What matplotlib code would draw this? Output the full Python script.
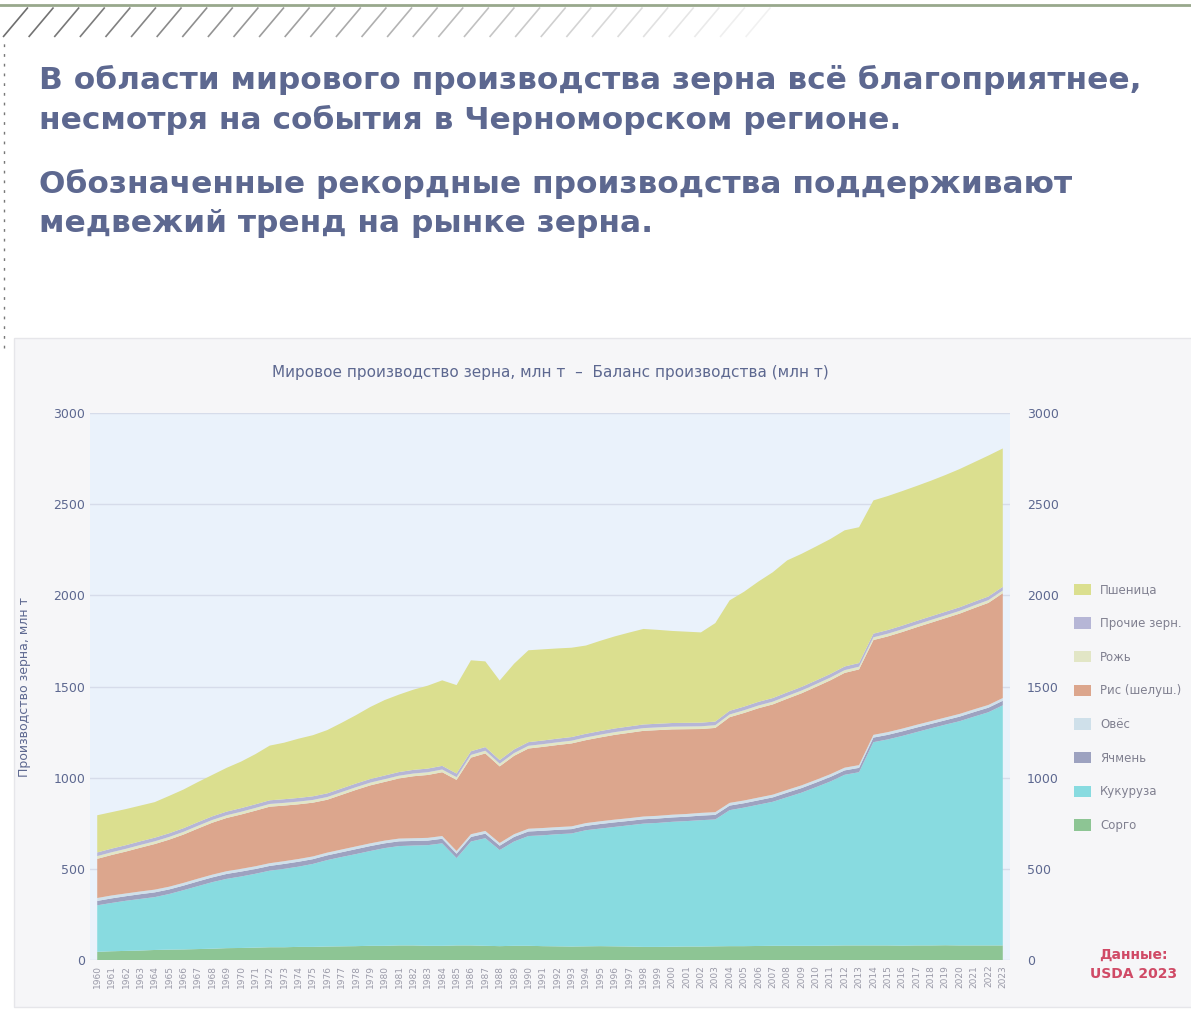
import matplotlib
matplotlib.use("Agg")
import matplotlib.pyplot as plt
import numpy as np
from matplotlib.lines import Line2D
from matplotlib.patches import Rectangle

years = np.arange(1960, 2024)

# series, bottom to top (млн т)
sorghum = [45, 48, 50, 52, 55, 57, 58, 60,
           62, 65, 66, 68, 70, 70, 72, 72,
           74, 75, 76, 78, 78, 80, 80, 78,
           78, 80, 80, 78, 76, 78, 78, 76,
           75, 74, 75, 76, 75, 74, 72, 72,
           73, 74, 74, 75, 76, 76, 77, 78,
           78, 78, 78, 79, 80, 80, 80, 80,
           79, 80, 80, 81, 80, 80, 80, 80]
corn = [255, 265, 275, 283, 290, 305, 325, 345,
        365, 380, 392, 405, 420, 430, 440, 455,
        474, 490, 505, 520, 536, 545, 548, 552,
        562, 479, 570, 590, 527, 572, 602, 608,
        615, 620, 637, 645, 655, 665, 676, 680,
        685, 688, 693, 696, 746, 760, 775, 790,
        815, 840, 870, 900, 936, 950, 1115, 1130,
        1150, 1170, 1191, 1210, 1230, 1255, 1279, 1317]
barley = [24, 25, 25, 26, 26, 25, 25, 26,
          26, 27, 27, 26, 26, 27, 27, 26,
          26, 26, 27, 27, 26, 26, 25, 25,
          25, 24, 25, 25, 24, 25, 25, 25,
          24, 24, 24, 25, 25, 24, 24, 24,
          24, 24, 25, 25, 25, 24, 24, 24,
          25, 25, 25, 25, 24, 24, 25, 25,
          25, 25, 24, 24, 25, 25, 25, 25]
oats = [16, 16, 15, 15, 15, 15, 15, 15,
        15, 15, 15, 15, 15, 15, 15, 15,
        15, 15, 15, 15, 15, 15, 15, 15,
        15, 15, 15, 15, 15, 15, 15, 15,
        15, 15, 15, 15, 15, 15, 15, 15,
        15, 15, 15, 15, 15, 15, 15, 15,
        15, 15, 15, 15, 15, 15, 15, 15,
        15, 15, 15, 15, 15, 15, 15, 15]
rice = [215, 222, 230, 240, 250, 258, 265, 275,
        285, 292, 298, 305, 310, 305, 300, 295,
        290, 300, 310, 318, 322, 330, 340, 345,
        350, 390, 420, 425, 420, 430, 440, 445,
        450, 455, 455, 460, 465, 468, 470, 470,
        468, 465, 460, 462, 470, 480, 490, 495,
        500, 505, 510, 515, 520, 525, 520, 525,
        530, 535, 540, 545, 550, 555, 560, 575]
rye = [15, 15, 15, 15, 15, 15, 15, 15,
       15, 15, 15, 15, 15, 15, 15, 15,
       15, 15, 15, 15, 15, 15, 15, 15,
       15, 15, 15, 15, 15, 15, 15, 15,
       15, 15, 15, 15, 15, 15, 15, 15,
       15, 15, 15, 15, 15, 15, 15, 15,
       15, 15, 15, 15, 15, 15, 15, 15,
       15, 15, 15, 15, 15, 15, 15, 15]
other = [20, 20, 20, 20, 20, 20, 20, 20,
         20, 20, 20, 20, 20, 20, 20, 20,
         20, 20, 20, 20, 20, 20, 20, 20,
         20, 20, 20, 20, 20, 20, 20, 20,
         20, 20, 20, 20, 20, 20, 20, 20,
         20, 20, 20, 20, 20, 20, 20, 20,
         20, 20, 20, 20, 20, 20, 20, 20,
         20, 20, 20, 20, 20, 20, 20, 20]
wheat = [204, 200, 198, 196, 195, 205, 212, 220,
         227, 240, 255, 275, 300, 310, 325, 335,
         347, 360, 375, 395, 414, 425, 440, 455,
         469, 485, 499, 470, 436, 470, 504, 500,
         495, 490, 484, 495, 505, 515, 524, 515,
         505, 500, 495, 540, 606, 630, 660, 690,
         724, 730, 735, 740, 747, 745, 731, 735,
         738, 740, 744, 750, 758, 765, 773, 759]

series = [sorghum, corn, barley, oats, rice, rye, other, wheat]
labels = ["Сорго", "Кукуруза", "Ячмень", "Овёс", "Рис (шелуш.)",
          "Рожь", "Прочие зерн.", "Пшеница"]
colors = ["#8dc594", "#88dbe0", "#9da2c0", "#cfe0ea", "#dca68d",
          "#e2e6c6", "#b6b6d6", "#dbdf8f"]
y_ticks = [0, 500, 1000, 1500, 2000, 2500, 3000]

TEXT_COL = "#5d6890"

fig = plt.figure(figsize=(11.91, 10.10), dpi=100)
fig.patch.set_facecolor("white")

# decorative header: top rule, slashes, dotted left rule
fig.add_artist(Line2D([0, 1], [0.995, 0.995], color="#98a88c", lw=2))
for k in range(30):
    x0 = 0.003 + k * 0.0215
    if x0 > 0.64:
        break
    a = max(0.08, 0.85 - k * 0.027)
    fig.add_artist(Line2D([x0, x0 + 0.02], [0.964, 0.992],
                          color="#555555", lw=1.2, alpha=a))
fig.add_artist(Line2D([0.003, 0.003], [0.655, 0.96], color="#777777",
                      lw=1, ls=(0, (2, 5))))

heading = [
    ("В области мирового производства зерна всё благоприятнее,", 0.921),
    ("несмотря на события в Черноморском регионе.", 0.881),
    ("Обозначенные рекордные производства поддерживают", 0.818),
    ("медвежий тренд на рынке зерна.", 0.779),
]
for txt, yy in heading:
    fig.text(0.033, yy, txt, fontsize=22.5, fontweight="bold",
             color=TEXT_COL, va="center", ha="left")

# chart panel background
fig.add_artist(Rectangle((0.012, 0.003), 0.99, 0.662, transform=fig.transFigure,
                         facecolor="#f6f6f8", edgecolor="#e6e6ea", lw=1,
                         zorder=-5))

ax = fig.add_axes([0.0756, 0.0495, 0.7724, 0.5415])
ax.set_facecolor("#eaf2fb")
ax.stackplot(years, *series, colors=colors, labels=labels, lw=0)
ax.set_xlim(years[0] - 0.5, years[-1] + 0.5)
ax.set_ylim(0, 3000)
ax.set_yticks(y_ticks)
ax.set_yticklabels([str(v) for v in y_ticks], fontsize=9, color=TEXT_COL)
ax.grid(axis="y", color="#d6dcea", lw=1)
ax.set_axisbelow(True)
ax.set_xticks(years)
ax.set_xticklabels([str(y) for y in years], rotation=90, fontsize=6.5,
                   color="#9a9aa8")
ax.tick_params(length=0)
for s in ax.spines.values():
    s.set_visible(False)
ax.set_ylabel("Производство зерна, млн т", fontsize=9, color=TEXT_COL,
              labelpad=16)

ax2 = ax.twinx()
ax2.set_ylim(0, 3000)
ax2.set_yticks(y_ticks)
ax2.set_yticklabels([str(v) for v in y_ticks], fontsize=9, color=TEXT_COL)
ax2.tick_params(length=0, pad=12)
for s in ax2.spines.values():
    s.set_visible(False)

ax.set_title("Мировое производство зерна, млн т  –  Баланс производства (млн т)",
             fontsize=11, color=TEXT_COL, pad=26)

h, l = ax.get_legend_handles_labels()
fig.legend(h[::-1], l[::-1], loc="upper left", bbox_to_anchor=(0.893, 0.433),
           frameon=False, fontsize=8.5, labelcolor="#808090",
           handlelength=1.4, handleheight=1.1, labelspacing=1.75)

fig.text(0.952, 0.045, "Данные:\nUSDA 2023", fontsize=10, fontweight="bold",
         color="#d04a66", ha="center", va="center", linespacing=1.5)

fig.savefig("out.png", dpi=100)
